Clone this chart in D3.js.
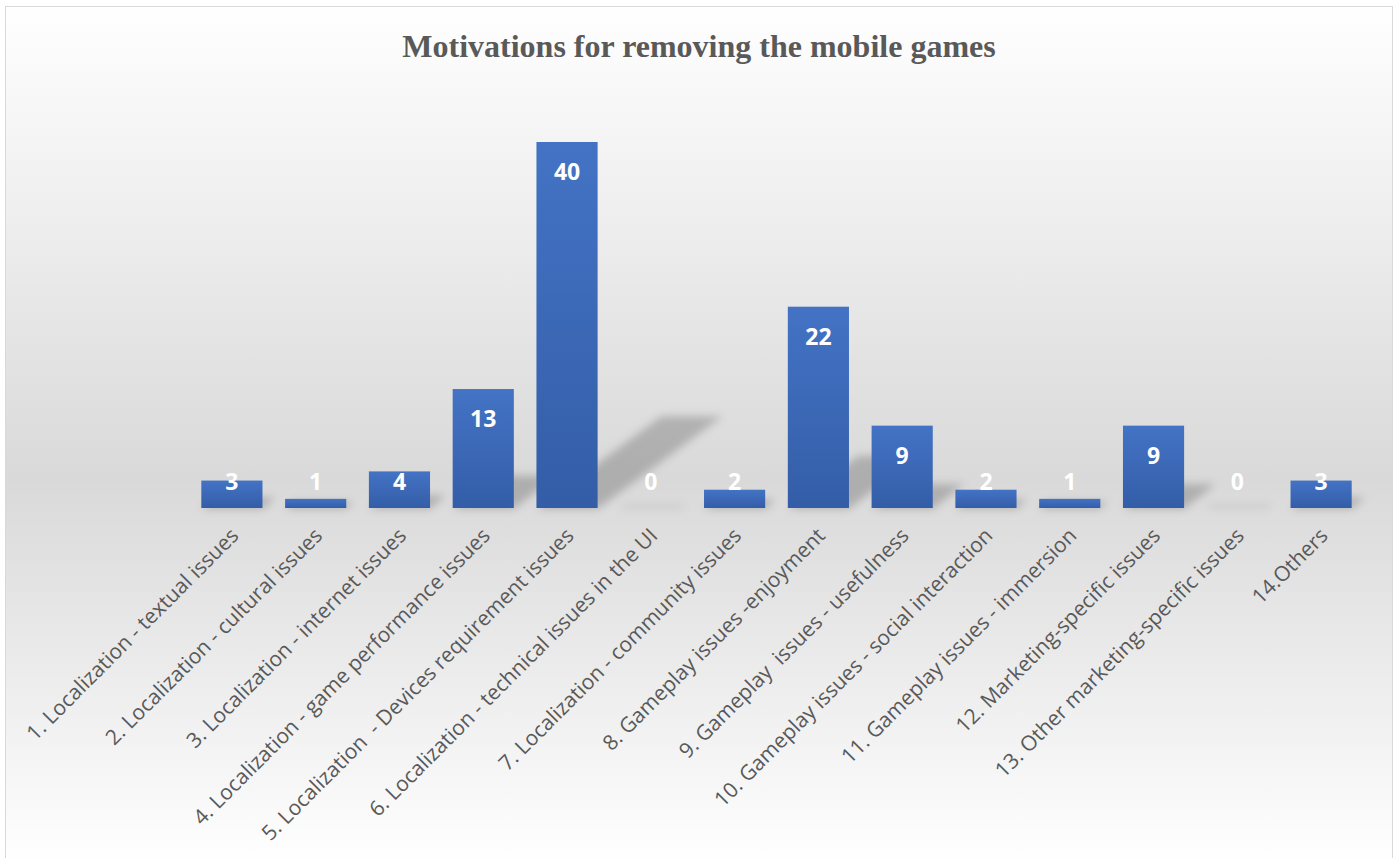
<!DOCTYPE html>
<html>
<head>
<meta charset="utf-8">
<script src="https://cdn.jsdelivr.net/npm/d3@7/dist/d3.min.js"></script>
<style>
  html, body { margin: 0; padding: 0; background: #ffffff; }
  svg { display: block; }
</style>
</head>
<body>
<svg id="chart" width="1398" height="858"></svg>
<script>
// Survey answers: reasons players gave for uninstalling mobile games
const categories = [
  "1. Localization - textual issues",
  "2. Localization - cultural issues",
  "3. Localization - internet issues",
  "4. Localization - game performance issues",
  "5. Localization  - Devices requirement issues",
  "6. Localization - technical issues in the UI",
  "7. Localization - community issues",
  "8. Gameplay issues -enjoyment",
  "9. Gameplay  issues - usefulness",
  "10. Gameplay issues - social interaction",
  "11. Gameplay issues - immersion",
  "12. Marketing-specific issues",
  "13. Other marketing-specific issues",
  "14.Others"
];
const counts = [3, 1, 4, 13, 40, 0, 2, 22, 9, 2, 1, 9, 0, 3];
const titleText = "Motivations for removing the mobile games";

const W = 1398, H = 858;
const baseY = 508;

const svg = d3.select("#chart");
const defs = svg.append("defs");

// Chart area background: white -> light gray -> white
const bg = defs.append("linearGradient")
  .attr("id", "bgGrad").attr("x1", 0).attr("y1", 0).attr("x2", 0).attr("y2", 1);
bg.append("stop").attr("offset", "0%").attr("stop-color", "#ffffff");
bg.append("stop").attr("offset", "55%").attr("stop-color", "#d9d9d9");
bg.append("stop").attr("offset", "100%").attr("stop-color", "#ffffff");

// Bar fill: lighter blue on top, deeper blue at the bottom
const barGrad = defs.append("linearGradient")
  .attr("id", "barGrad").attr("x1", 0).attr("y1", 0).attr("x2", 0).attr("y2", 1);
barGrad.append("stop").attr("offset", "0%").attr("stop-color", "#4473c5");
barGrad.append("stop").attr("offset", "100%").attr("stop-color", "#335da7");

// Soft blur for the perspective shadows
const blur = defs.append("filter").attr("id", "shadowBlur")
  .attr("x", "-50%").attr("y", "-50%").attr("width", "200%").attr("height", "200%");
blur.append("feGaussianBlur").attr("stdDeviation", 4.5);

svg.append("rect")
  .attr("x", 5.5).attr("y", 6.5)
  .attr("width", 1387).attr("height", 860)
  .attr("fill", "url(#bgGrad)")
  .attr("stroke", "#d9d9d9").attr("stroke-width", 1);

// Scales
const x = d3.scaleBand()
  .domain(categories)
  .range([190, 1363])
  .paddingInner(0.27)
  .paddingOuter(0.135);

const y = d3.scaleLinear()
  .domain([0, 40])
  .range([baseY, 142]);

// Title
svg.append("text")
  .attr("x", W / 2).attr("y", 57)
  .attr("text-anchor", "middle")
  .attr("font-family", "'Liberation Serif', 'Times New Roman', serif")
  .attr("font-weight", "bold")
  .attr("font-size", 32)
  .attr("fill", "#595959")
  .text(titleText);

const data = categories.map((c, i) => ({ cat: c, val: counts[i] }));

// Perspective shadows cast up and to the right of each bar
svg.append("g")
  .attr("filter", "url(#shadowBlur)")
  .selectAll("path")
  .data(data)
  .join("path")
  .attr("fill", "#000")
  .attr("fill-opacity", d => d.val === 0 ? 0.08 : 0.2)
  .attr("d", d => {
    const x0 = x(d.cat), x1 = x0 + x.bandwidth();
    const h = y(0) - y(d.val);
    const dx = h * 0.33 + 4;
    const dy = h * 0.24 + 5;
    const b = y(0) + 1;
    return `M${x0},${b} L${x1},${b} L${x1 + dx},${b - dy} L${x0 + dx},${b - dy} Z`;
  });

// Bars
svg.append("g")
  .selectAll("rect")
  .data(data)
  .join("rect")
  .attr("x", d => x(d.cat))
  .attr("y", d => y(d.val))
  .attr("width", x.bandwidth())
  .attr("height", d => y(0) - y(d.val))
  .attr("fill", "url(#barGrad)");

// Value labels at the inside end of each bar
svg.append("g")
  .selectAll("text")
  .data(data)
  .join("text")
  .attr("x", d => x(d.cat) + x.bandwidth() / 2)
  .attr("y", d => Math.min(y(d.val) + 30, y(0) - 26))
  .attr("dy", "0.35em")
  .attr("text-anchor", "middle")
  .attr("font-family", "'Open Sans', 'Noto Sans', sans-serif")
  .attr("font-weight", "bold")
  .attr("font-size", 23)
  .attr("fill", "#ffffff")
  .text(d => d.val);

// Category axis with rotated labels
const axis = d3.axisBottom(x).tickSize(0).tickPadding(0);
const axisG = svg.append("g")
  .attr("transform", `translate(0,${baseY})`)
  .call(axis);
axisG.select(".domain").remove();
axisG.selectAll(".tick text")
  .attr("x", null).attr("y", null).attr("dy", null)
  .attr("transform", "translate(8,29) rotate(-45)")
  .attr("text-anchor", "end")
  .attr("font-family", "'Open Sans', 'Noto Sans', sans-serif")
  .attr("font-size", 21)
  .attr("fill", "#595959")
  .style("white-space", "pre");
</script>
</body>
</html>
